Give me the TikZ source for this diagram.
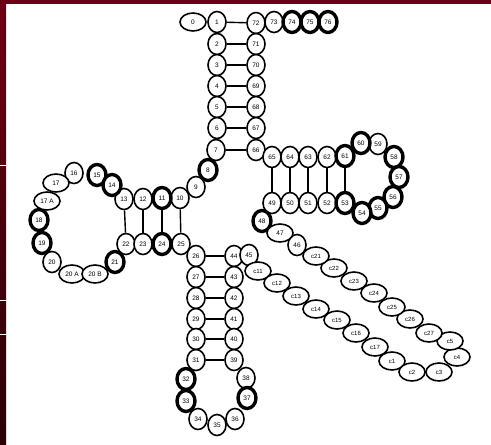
\documentclass[tikz,border=0pt]{standalone}
\usepackage{fontspec}
\setsansfont{Liberation Sans}
\usepackage{xcolor}
\definecolor{frame}{HTML}{6B0016}
\definecolor{framedark}{HTML}{2A0006}
\usepackage{tikz}
\usetikzlibrary{shapes.geometric}

\begin{document}
\begin{tikzpicture}[x=1pt, y=-1pt,
    font=\sffamily\fontsize{6.5}{7}\selectfont,
    base/.style={ellipse, draw, fill=white, line width=1.6pt,
      minimum width=18pt, minimum height=21pt, inner sep=0pt},
    heavy/.style={base, line width=3.4pt},
    wide/.style={base, minimum width=26pt, minimum height=18pt},
    loop/.style={wide, font=\sffamily\fontsize{6}{6}\selectfont},
    pair/.style={line width=1.4pt}]
  \useasboundingbox (0,0) rectangle (491,445);
  \fill[white] (0,0) rectangle (491,445);
  % frame
  \fill[frame] (0,0) rectangle (491,4);
  \shade[top color=frame, bottom color=framedark] (0,0) rectangle (6,445);
  \foreach \yy in {165,300,334}
    \fill[white] (0,\yy) rectangle (6,\yy+1);

  % plain bases
  \foreach \n/\x/\y in {1/217/22, 2/217/44, 3/217/65, 4/217/86, 5/217/107,
      6/217/128, 7/216/150, 72/256/23, 71/256/44, 70/256/65, 69/256/86,
      68/256/107, 67/256/128, 66/256/150, 73/274/22,
      65/272/157, 64/290/157, 63/308/157, 62/327/157, 59/378/144,
      52/327/203, 51/308/203, 50/290/203, 49/272/203,
      9/196/187, 16/74/173, 13/124/199, 12/143/199, 10/180/198,
      20/52/262, 22/126/244, 23/143/244, 25/181/244,
      26/196/256, 27/196/277, 28/196/298, 29/196/319, 30/196/339, 31/196/360,
      34/198/419, 35/217/425, 36/235/419, 38/246/378,
      44/234/256, 43/234/277, 42/234/298, 41/234/319, 40/234/339, 39/234/360,
      45/249/255, 46/297/245}
    \node[base] (n\n) at (\x,\y) {\n};

  % modified bases
  \foreach \n/\x/\y in {74/292/22, 75/310/22, 76/328/22,
      61/345/156, 60/361/143, 58/394/157, 57/399/177, 56/393/197,
      55/378/208, 54/362/213, 53/345/203, 48/262/221, 8/208/170,
      15/97/175, 14/112/185, 11/162/198, 24/162/244, 18/39/220,
      19/42/243, 21/115/262, 32/186/379, 33/186/401, 37/247/398}
    \node[heavy] (n\n) at (\x,\y) {\n};

  % wide bases
  \node[wide] (n0) at (193,22) {0};
  \node[wide] (n17) at (56,183) {17};
  \node[wide] (n17A) at (47,201) {17 A};
  \node[wide] (n20A) at (72,274) {20 A};
  \node[wide] (n20B) at (95,274) {20 B};
  \node[wide] (n47) at (280,233) {47};

  % variable loop
  \foreach \n/\x/\y in {c11/258/271, c12/277/283, c13/296/296, c14/316/309,
      c15/337/320, c16/356/333, c17/375/347, c1/392/361, c2/412/372,
      c3/439/372, c4/457/357, c5/450/341, c27/429/333, c26/410/319,
      c25/392/307, c24/374/293, c23/354/281, c22/334/268, c21/316/256}
    \node[loop] (\n) at (\x,\y) {\n};

  % base pairs
  \foreach \a/\b in {1/72, 2/71, 3/70, 4/69, 5/68, 6/67, 7/66,
      65/49, 64/50, 63/51, 62/52, 61/53,
      13/22, 12/23, 11/24, 10/25,
      26/44, 27/43, 28/42, 29/41, 30/40, 31/39}
    \draw[pair] (n\a) -- (n\b);
\end{tikzpicture}
\end{document}
